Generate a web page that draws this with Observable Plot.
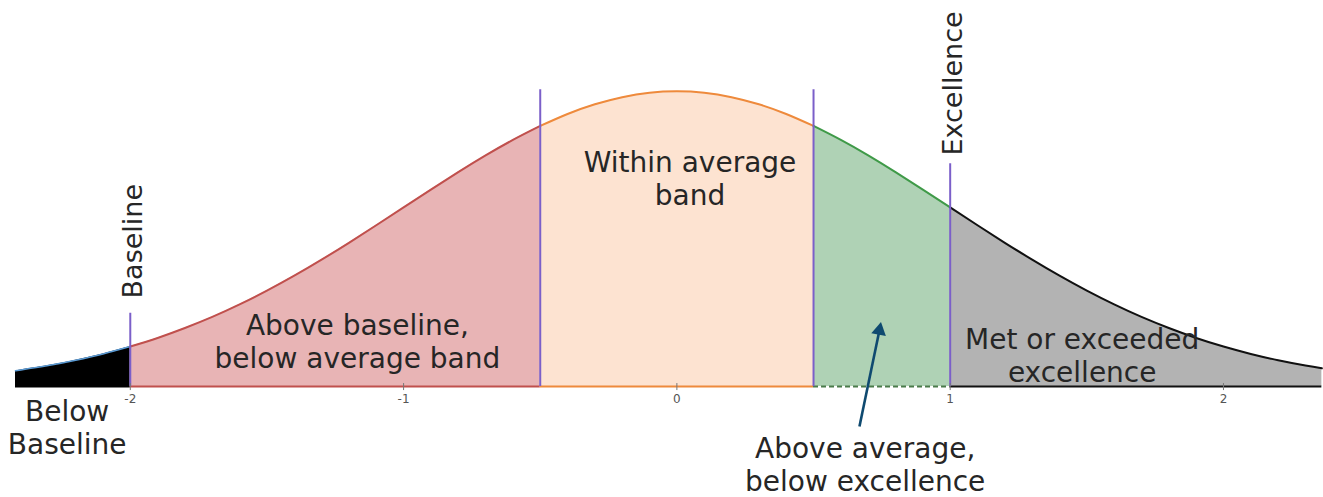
<!DOCTYPE html>
<html>
<head>
<meta charset="utf-8">
<script src="https://cdn.jsdelivr.net/npm/d3@7"></script>
<script src="https://cdn.jsdelivr.net/npm/@observablehq/plot@0.6"></script>
<style>
  html, body { margin: 0; padding: 0; background: #fff; }
  #chart svg { display: block; }
</style>
</head>
<body>
<div id="chart"></div>
<script>
// Curve (height of the bell at each x)
const xs = [-2.42,-2.4,-2.3,-2.2,-2.1,-2.0,-1.9,-1.8,-1.7,-1.6,-1.5,-1.4,-1.3,-1.2,-1.1,-1.0,-0.9,-0.8,-0.7,-0.6,-0.5,-0.4,-0.3,-0.2,-0.1,0,0.1,0.2,0.3,0.4,0.5,0.6,0.7,0.8,0.9,1.0,1.1,1.2,1.3,1.4,1.5,1.6,1.7,1.8,1.9,2.0,2.1,2.2,2.3,2.36];
const density = [0.0213,0.0224,0.0283,0.0355,0.0440,0.0540,0.0656,0.0790,0.0940,0.1109,0.1295,0.1497,0.1714,0.1942,0.2179,0.2420,0.2661,0.2897,0.3123,0.3332,0.3521,0.3683,0.3814,0.3910,0.3970,0.3989,0.3970,0.3910,0.3814,0.3683,0.3521,0.3332,0.3123,0.2897,0.2661,0.2420,0.2179,0.1942,0.1714,0.1497,0.1295,0.1109,0.0940,0.0790,0.0656,0.0540,0.0440,0.0355,0.0283,0.0246];

// Bands under the curve
const regionNames = ["below", "aboveBaseline", "withinAverage", "aboveAverage", "excellence"];
const regionStart = [-2.42, -2.0, -0.5, 0.5, 1.0];
const regionEnd   = [-2.0, -0.5, 0.5, 1.0, 2.36];

// Vertical markers
const markerX   = [-2.0, -0.5, 0.5, 1.0];
const markerTop = [0.099, 0.401, 0.401, 0.301];

// Axis ticks
const tickValues = [-2, -1, 0, 1, 2];

// Annotations (data coordinates)
const labelText = ["Above baseline,\nbelow average band", "Within average\nband", "Met or exceeded\nexcellence", "Below\nBaseline", "Above average,\nbelow excellence"];
const labelX = [-1.169, 0.048, 1.483, -2.231, 0.689];
const labelY = [0.0622, 0.282, 0.0420, -0.054, -0.104];

const rotText = ["Baseline", "Excellence"];
const rotX = [-1.988, 1.011];
const rotY = [0.119, 0.312];

const arrowFrom = [0.668, -0.054];
const arrowTo = [0.741, 0.0757];

// Styles
const fills   = {below: "#000000", aboveBaseline: "#e8b4b5", withinAverage: "#fde3d1", aboveAverage: "#afd2b5", excellence: "#b3b3b3"};
const strokes = {below: "#5b9bd5", aboveBaseline: "#c0504d", withinAverage: "#ee8a3c", aboveAverage: "#3f9a48", excellence: "#111111"};
const bottoms = {below: "#000000", aboveBaseline: "#c0504d", withinAverage: "#ee8a3c", aboveAverage: "#4a7a4a", excellence: "#111111"};

const points = xs.map((x, i) => ({x, y: density[i]}));

const marks = [];
regionNames.forEach((name, i) => {
  const pts = points.filter(p => p.x >= regionStart[i] - 1e-9 && p.x <= regionEnd[i] + 1e-9);
  marks.push(Plot.areaY(pts, {x: "x", y: "y", fill: fills[name], curve: "natural"}));
});
regionNames.forEach((name, i) => {
  const pts = points.filter(p => p.x >= regionStart[i] - 1e-9 && p.x <= regionEnd[i] + 1e-9);
  marks.push(Plot.line(pts, {x: "x", y: "y", stroke: strokes[name], strokeWidth: name === "below" ? 1.5 : 2, curve: "natural"}));
  marks.push(Plot.ruleY([0], {x1: regionStart[i], x2: regionEnd[i], stroke: bottoms[name], strokeWidth: 2, strokeDasharray: name === "aboveAverage" ? "5,3" : null}));
});

marks.push(Plot.ruleX(markerX.map((x, i) => ({x, top: markerTop[i]})), {x: "x", y1: 0, y2: "top", stroke: "#7b5fc9", strokeWidth: 2}));

marks.push(Plot.ruleX(tickValues, {x: d => d, y1: -0.0055, y2: 0.004, stroke: "#777", strokeWidth: 1}));
marks.push(Plot.axisX({ticks: tickValues, tickSize: 0, tickPadding: 8, fontSize: 12, color: "#555", tickFormat: d => String(d)}));

marks.push(Plot.text(labelText.map((t, i) => ({t, x: labelX[i], y: labelY[i]})), {
  x: "x", y: "y", text: "t", fontSize: 28, fill: "#262626", lineHeight: 1.18, textAnchor: "middle"
}));
marks.push(Plot.text(rotText.map((t, i) => ({t, x: rotX[i], y: rotY[i]})), {
  x: "x", y: "y", text: "t", fontSize: 27, fill: "#262626", rotate: -90, textAnchor: "start"
}));
marks.push(Plot.link([{x1: arrowFrom[0], y1: arrowFrom[1], x2: arrowTo[0], y2: arrowTo[1]}], {
  x1: "x1", y1: "y1", x2: "x2", y2: "y2", stroke: "#0f4a70", strokeWidth: 2.6
}));
marks.push(Plot.dot([{x: arrowTo[0], y: arrowTo[1]}], {
  x: "x", y: "y", symbol: "triangle", r: 5.5, fill: "#0f4a70", stroke: "none", rotate: 10.8
}));

const chart = Plot.plot({
  width: 1323,
  height: 497,
  marginLeft: 15,
  marginRight: 3,
  marginTop: 90,
  marginBottom: 111,
  x: {domain: [-2.42, 2.355], axis: null},
  y: {domain: [0, 0.4], axis: null},
  style: {fontFamily: "'DejaVu Sans', sans-serif", background: "#fff", overflow: "visible"},
  marks
});
document.getElementById("chart").appendChild(chart);
</script>
</body>
</html>
